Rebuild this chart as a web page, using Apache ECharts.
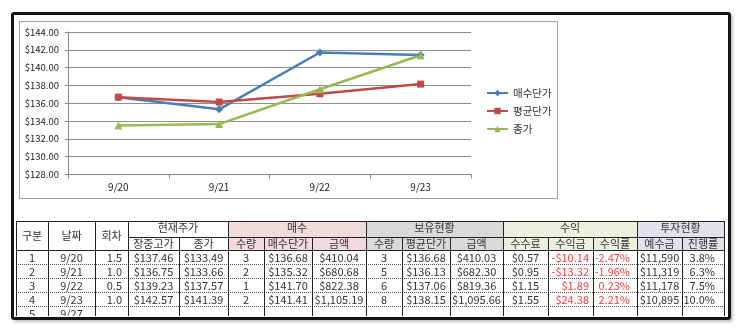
<!DOCTYPE html>
<html>
<head>
<meta charset="utf-8">
<script src="https://cdn.jsdelivr.net/npm/echarts@6/dist/echarts.min.js"></script>
<style>
  html, body { margin: 0; padding: 0; background: #fff; }
  body { width: 743px; height: 329px; position: relative; overflow: hidden;
         font-family: "Noto Sans CJK KR", "Noto Sans", sans-serif; }
  #frame { position: absolute; left: 11px; top: 12px; width: 720px; height: 308px;
           box-sizing: border-box; border: 3px solid #151515; border-radius: 3px;
           box-shadow: 2px 2px 3px rgba(0,0,0,0.25); z-index: 5; pointer-events: none; }
  #chartBox { position: absolute; left: 19px; top: 21px; width: 539px; height: 178px;
              box-sizing: border-box; border: 1px solid #a0a0a0; }
  #chart { position: absolute; left: 0; top: 0; width: 743px; height: 329px; }
  #tableWrap { position: absolute; left: 0; top: 0; width: 743px; height: 316px; overflow: hidden; }
  .cell { position: absolute; box-sizing: border-box; font-size: 11px; color: #333;
          white-space: nowrap; overflow: hidden; }
  .hline { position: absolute; height: 0; }
  .vline { position: absolute; width: 0; border-left: 1px solid #222; }
</style>
</head>
<body>
<div id="chartBox"></div>
<div id="chart"></div>
<div id="tableWrap"></div>
<div id="frame"></div>
<script>
// ---- chart data ----
const categories = ['9/20', '9/21', '9/22', '9/23'];
const buyPrice   = [136.68, 135.32, 141.70, 141.41];   // 매수단가
const avgPrice   = [136.68, 136.13, 137.06, 138.15];   // 평균단가
const closePrice = [133.49, 133.66, 137.57, 141.39];   // 종가
const yTicks = { min: 128, max: 144, step: 2 };

// ---- table data ----
const rowNo        = ['1', '2', '3', '4', '5'];
const rowDate      = ['9/20', '9/21', '9/22', '9/23', '9/27'];
const rounds       = ['1.5', '1.0', '0.5', '1.0'];
const intradayHigh = [137.46, 136.75, 139.23, 142.57];
const buyQty       = [3, 2, 1, 2];
const buyAmount    = [410.04, 680.68, 822.38, 1105.19];
const holdQty      = [3, 5, 6, 8];
const holdAmount   = [410.03, 682.30, 819.36, 1095.66];
const fee          = [0.57, 0.95, 1.15, 1.55];
const profit       = [-10.14, -13.32, 1.89, 24.38];
const profitRate   = [-2.47, -1.96, 0.23, 2.21];
const deposit      = [11590, 11319, 11178, 10895];
const progress     = [3.8, 6.3, 7.5, 10.0];

const groupHeaders = [
  { text: '현재주가', span: 2, bg: '#ffffff' },
  { text: '매수',     span: 3, bg: '#f2dcdb' },
  { text: '보유현황', span: 3, bg: '#d9d9d9' },
  { text: '수익',     span: 3, bg: '#ebf1de' },
  { text: '투자현황', span: 2, bg: '#e4dfec' }
];
const fixedHeaders = ['구분', '날짜', '회차'];
const subHeaders = ['장중고가', '종가', '수량', '매수단가', '금액', '수량', '평균단가', '금액',
                    '수수료', '수익금', '수익률', '예수금', '진행률'];

const FONT = '"Noto Sans CJK KR", "Noto Sans", sans-serif';

// ---- line chart ----
const chart = echarts.init(document.getElementById('chart'), null, { renderer: 'canvas' });
const axisGrey = '#868686';
chart.setOption({
  animation: false,
  backgroundColor: 'transparent',
  grid: { left: 68, top: 32, width: 403, height: 142.5, containLabel: false },
  xAxis: {
    type: 'category', data: categories, boundaryGap: true,
    axisLine: { lineStyle: { color: axisGrey, width: 1 } },
    axisTick: { show: true, length: 4, lineStyle: { color: axisGrey } },
    axisLabel: { margin: 8, fontSize: 10, color: '#222', fontFamily: FONT }
  },
  yAxis: {
    type: 'value', min: yTicks.min, max: yTicks.max, interval: yTicks.step,
    axisLine: { show: true, lineStyle: { color: axisGrey, width: 1 } },
    axisTick: { show: true, length: 3, lineStyle: { color: axisGrey } },
    splitLine: { lineStyle: { color: '#8f8f8f', width: 1 } },
    axisLabel: { margin: 9, fontSize: 9.5, color: '#222', fontFamily: FONT,
                 formatter: v => '$' + v.toFixed(2) }
  },
  legend: {
    orient: 'vertical', left: 481, top: 82, itemWidth: 21, itemHeight: 8, itemGap: 6,
    textStyle: { fontSize: 10.5, color: '#333', fontFamily: FONT, lineHeight: 12 },
    data: ['매수단가', '평균단가', '종가']
  },
  series: [
    { type: 'line', name: '매수단가', data: buyPrice, symbol: 'diamond', symbolSize: 8,
      lineStyle: { width: 2.5, color: '#4a7ebb' }, itemStyle: { color: '#4a7ebb' } },
    { type: 'line', name: '평균단가', data: avgPrice, symbol: 'rect', symbolSize: 7,
      lineStyle: { width: 2.5, color: '#be4b48' }, itemStyle: { color: '#be4b48' } },
    { type: 'line', name: '종가', data: closePrice, symbol: 'triangle', symbolSize: 8,
      lineStyle: { width: 2.5, color: '#98b954' }, itemStyle: { color: '#98b954' } }
  ]
});

// ---- table ----
const colX = [16, 48, 95, 128, 179, 228, 264, 312, 366, 402, 450, 503, 548, 593, 637, 682, 724];
const rowY = [221, 237, 249.5, 263.6, 277.7, 291.8, 305.9, 320];

const money = (v, d) => {
  const s = Math.abs(v).toLocaleString('en-US', { minimumFractionDigits: d, maximumFractionDigits: d });
  return (v < 0 ? '-' : '') + '$' + s;
};
const pct = (v, d) => v.toFixed(d) + '%';

const wrap = document.getElementById('tableWrap');
function cell(x0, x1, y0, y1, text, opts) {
  opts = opts || {};
  const d = document.createElement('div');
  d.className = 'cell';
  d.style.left = x0 + 'px';
  d.style.top = y0 + 'px';
  d.style.width = (x1 - x0) + 'px';
  d.style.height = (y1 - y0) + 'px';
  d.style.lineHeight = (y1 - y0 + (opts.dy || 0) * 2) + 'px';
  d.style.textAlign = opts.align || 'center';
  if (opts.pad) d.style[opts.align === 'right' ? 'paddingRight' : 'paddingLeft'] = opts.pad + 'px';
  if (opts.bg) d.style.background = opts.bg;
  if (opts.color) d.style.color = opts.color;
  d.textContent = text;
  wrap.appendChild(d);
}
function hline(x0, x1, y, style) {
  const d = document.createElement('div');
  d.className = 'hline';
  d.style.left = x0 + 'px';
  d.style.top = Math.round(y) + 'px';
  d.style.width = (x1 - x0) + 'px';
  d.style.borderTop = style;
  wrap.appendChild(d);
}
function vline(x, y0, y1) {
  const d = document.createElement('div');
  d.className = 'vline';
  d.style.left = x + 'px';
  d.style.top = y0 + 'px';
  d.style.height = (y1 - y0) + 'px';
  wrap.appendChild(d);
}

// header backgrounds and text
fixedHeaders.forEach((t, i) => cell(colX[i], colX[i + 1], rowY[0], rowY[2], t, { dy: 0 }));
let c = 3;
const subBg = [];
groupHeaders.forEach(g => {
  cell(colX[c], colX[c + g.span], rowY[0], rowY[1], g.text, { bg: g.bg, dy: -1.5 });
  for (let k = 0; k < g.span; k++) subBg.push(g.bg);
  c += g.span;
});
subHeaders.forEach((t, i) => cell(colX[i + 3], colX[i + 4], rowY[1], rowY[2], t, { bg: subBg[i] }));

// data rows
const RED = '#ff3b3b';
for (let r = 0; r < rowNo.length; r++) {
  const y0 = rowY[r + 2], y1 = rowY[r + 3];
  cell(colX[0], colX[1], y0, y1, rowNo[r]);
  cell(colX[1], colX[2], y0, y1, rowDate[r]);
  if (r >= rounds.length) continue;
  cell(colX[2], colX[3], y0, y1, rounds[r], { align: 'right', pad: 6 });
  cell(colX[3], colX[4], y0, y1, money(intradayHigh[r], 2));
  cell(colX[4], colX[5], y0, y1, money(closePrice[r], 2));
  cell(colX[5], colX[6], y0, y1, String(buyQty[r]));
  cell(colX[6], colX[7], y0, y1, money(buyPrice[r], 2));
  cell(colX[7], colX[8], y0, y1, money(buyAmount[r], 2));
  cell(colX[8], colX[9], y0, y1, String(holdQty[r]));
  cell(colX[9], colX[10], y0, y1, money(avgPrice[r], 2));
  cell(colX[10], colX[11], y0, y1, money(holdAmount[r], 2));
  cell(colX[11], colX[12], y0, y1, money(fee[r], 2));
  cell(colX[12], colX[13], y0, y1, money(profit[r], 2), { align: 'right', pad: 4, color: RED });
  cell(colX[13], colX[14], y0, y1, pct(profitRate[r], 2), { align: 'right', pad: 7, color: RED });
  cell(colX[14], colX[15], y0, y1, money(deposit[r], 0));
  cell(colX[15], colX[16], y0, y1, pct(progress[r], 1), { align: 'right', pad: 9 });
}

// grid lines
const xL = colX[0], xR = colX[colX.length - 1];
hline(xL, xR + 1, rowY[0], '1px solid #222');
hline(colX[3], xR + 1, rowY[1], '1px solid #222');
hline(xL, xR + 1, rowY[2], '1px solid #222');
for (let r = 3; r < rowY.length - 1; r++) hline(xL, xR + 1, rowY[r], '1px dotted #555');
// vertical borders: full height for group boundaries, lower part for sub-columns
const groupEdges = [0, 1, 2, 3, 5, 8, 11, 14, 16];
colX.forEach((x, i) => {
  const top = groupEdges.includes(i) ? rowY[0] : rowY[1];
  vline(x, top, rowY[rowY.length - 1]);
});
</script>
</body>
</html>
